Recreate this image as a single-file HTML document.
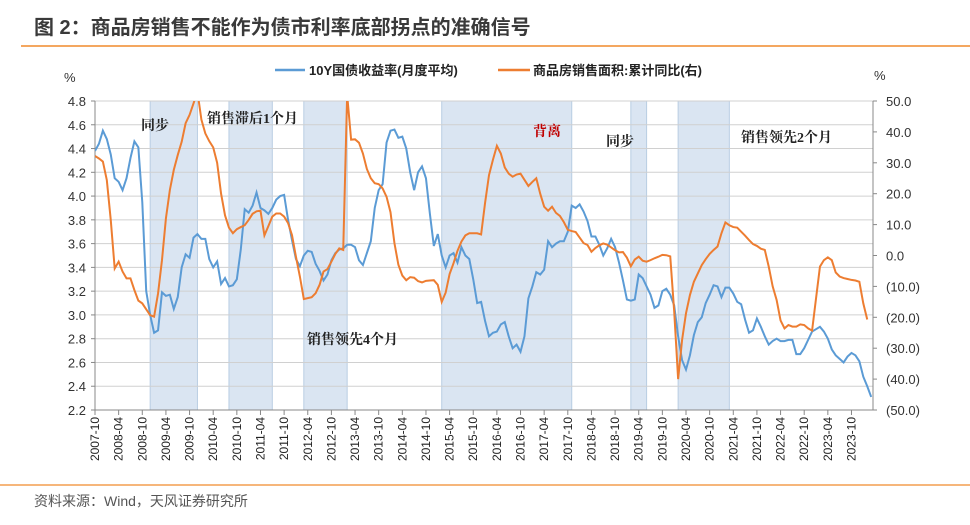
<!DOCTYPE html>
<html><head><meta charset="utf-8">
<style>
body{margin:0;background:#fff;width:970px;height:520px;overflow:hidden;font-family:"Liberation Sans","Noto Sans CJK SC",sans-serif;}
svg text{font-family:"Liberation Sans","Noto Sans CJK SC",sans-serif;}
.ann{font-family:"Liberation Serif","Noto Serif CJK SC",serif;font-weight:bold;font-size:14px;fill:#222;}
</style></head><body>
<svg id="chart" width="970" height="520" xmlns="http://www.w3.org/2000/svg">
<text x="34" y="34" font-size="20" font-weight="bold" fill="#3a3a3a">图 2：商品房销售不能作为债市利率底部拐点的准确信号</text>
<line x1="21" y1="46" x2="970" y2="46" stroke="#f08a2c" stroke-width="1.5"/>
<g id="shades"></g>
<g id="grid"></g>
<g id="axes"></g>
<g id="series"></g>
<g>
<line x1="275" y1="70" x2="305" y2="70" stroke="#5b9bd5" stroke-width="2.5"/>
<text x="309" y="75" font-size="13" font-weight="bold" fill="#222">10Y国债收益率(月度平均)</text>
<line x1="498" y1="70" x2="530" y2="70" stroke="#ed7d31" stroke-width="2.5"/>
<text x="533" y="75" font-size="13" font-weight="bold" fill="#222">商品房销售面积:累计同比(右)</text>
</g>
<text x="64" y="82" font-size="13" fill="#333">%</text>
<text x="874" y="80" font-size="13" fill="#333">%</text>
<text class="ann" x="141" y="130">同步</text>
<text class="ann" x="207" y="123">销售滞后1个月</text>
<text class="ann" x="307" y="344">销售领先4个月</text>
<text class="ann" x="533" y="136" style="fill:#c00000">背离</text>
<text class="ann" x="606" y="146">同步</text>
<text class="ann" x="741" y="142">销售领先2个月</text>
<line x1="0" y1="485" x2="970" y2="485" stroke="#f08a2c" stroke-width="1.2"/>
<text x="34" y="506" font-size="14" fill="#555">资料来源：Wind，天风证券研究所</text>
</svg>
<script>
const startYear = 2007, startMonth = 10;
const yieldValues = [4.38,4.44,4.55,4.48,4.35,4.15,4.12,4.05,4.15,4.32,4.46,4.41,3.95,3.2,3.0,2.85,2.87,3.19,3.16,3.17,3.05,3.15,3.4,3.51,3.48,3.65,3.68,3.64,3.64,3.47,3.4,3.45,3.26,3.31,3.24,3.25,3.3,3.55,3.89,3.86,3.92,4.03,3.9,3.88,3.85,3.9,3.97,4.0,4.01,3.8,3.63,3.47,3.41,3.5,3.54,3.53,3.43,3.37,3.29,3.34,3.46,3.52,3.55,3.56,3.59,3.59,3.57,3.46,3.42,3.52,3.62,3.9,4.05,4.1,4.45,4.55,4.56,4.49,4.5,4.4,4.2,4.05,4.2,4.25,4.15,3.85,3.58,3.68,3.5,3.4,3.5,3.52,3.44,3.57,3.5,3.47,3.3,3.1,3.11,2.95,2.82,2.85,2.86,2.92,2.94,2.82,2.72,2.75,2.69,2.82,3.14,3.24,3.36,3.34,3.38,3.62,3.57,3.6,3.62,3.62,3.7,3.92,3.9,3.93,3.87,3.79,3.66,3.66,3.59,3.5,3.56,3.64,3.57,3.44,3.29,3.13,3.12,3.13,3.34,3.31,3.24,3.17,3.06,3.08,3.2,3.22,3.17,3.08,2.82,2.62,2.54,2.66,2.83,2.94,2.98,3.1,3.17,3.25,3.24,3.15,3.23,3.23,3.18,3.11,3.09,2.96,2.85,2.87,2.97,2.9,2.82,2.75,2.78,2.8,2.78,2.78,2.79,2.79,2.67,2.67,2.72,2.79,2.86,2.88,2.9,2.86,2.8,2.71,2.66,2.63,2.6,2.65,2.68,2.66,2.61,2.48,2.4,2.31];
const salesValues = [32.2,31.4,30.4,24.4,11.5,-4.2,-2.0,-5.2,-7.4,-7.4,-11.2,-14.6,-15.5,-17.4,-19.3,-19.8,-12.3,-1.5,12.0,21.2,27.7,32.5,36.8,42.8,45.5,49.2,53,44,39.5,37,35,30,20,13,9,7.2,8.5,9.2,9.8,11.5,13.5,14.3,14.5,6.5,9.5,12.6,13.6,13.6,12.6,10.5,6.6,-0.4,-6.8,-14.1,-13.8,-13.5,-12.2,-9.5,-5.2,-4.4,-2.0,0.5,2.3,1.8,52,37.5,37.6,36.5,33,28,25,23.4,23.1,21.7,19,14,4,-3,-6.5,-8,-7,-7.2,-8.3,-8.7,-8.2,-8.1,-8.0,-9.5,-15,-12,-6,-2.5,1.5,4.5,6.5,7.2,7.2,7.2,6.8,17,26,31,35.5,33,28.5,26.5,25.5,26.2,26.5,24.5,22.5,23.8,25,20,15.8,14.5,15.8,13.8,12.8,10.8,8.3,7.9,7.6,5.8,4.0,3.4,1.2,2.4,3.3,3.9,3.5,2.6,1.7,1.0,1.1,-0.7,-3.5,-1.3,-0.4,-1.7,-2.0,-1.5,-0.9,-0.4,0.2,0.1,-0.3,-18,-40,-27.4,-18.7,-12.8,-8.5,-5.8,-3.1,-1.2,0.5,1.8,2.9,7.2,10.7,9.8,9.2,9.0,7.7,6.4,5.0,3.7,3.1,2.2,1.8,-3.6,-10,-14.4,-21,-23.6,-22.5,-23,-23,-22.3,-22.5,-23.6,-24.3,-13.9,-3.6,-1.5,-0.6,-1.5,-5.5,-6.8,-7.3,-7.6,-7.9,-8.1,-8.5,-15.5,-20.7];
const leftTicks = [2.2,2.4,2.6,2.8,3.0,3.2,3.4,3.6,3.8,4.0,4.2,4.4,4.6,4.8];
const rightTicks = [-50,-40,-30,-20,-10,0,10,20,30,40,50];
const rightTickLabels = ["(50.0)","(40.0)","(30.0)","(20.0)","(10.0)","0.0","10.0","20.0","30.0","40.0","50.0"];
const shadeStarts = ["2008-12","2010-08","2012-03","2015-02","2019-02","2020-02"];
const shadeEnds = ["2009-12","2011-07","2013-02","2017-11","2019-06","2021-03"];

const NS="http://www.w3.org/2000/svg";
const X0=95, X1=873, YT=101, YB=410, PXM=3.94;
function monthIndex(s){const [y,m]=s.split('-').map(Number);return (y-startYear)*12+(m-startMonth);}
function xScale(i){return X0+i*PXM;}
function yLeft(v){return YB-(v-2.2)/2.6*(YB-YT);}
function yRight(v){return YB-(v+50)/100*(YB-YT);}
function mk(tag,attrs,parent){const e=document.createElementNS(NS,tag);for(const k in attrs)e.setAttribute(k,attrs[k]);parent.appendChild(e);return e;}
const shades=document.getElementById('shades'),grid=document.getElementById('grid'),axes=document.getElementById('axes'),series=document.getElementById('series');

shadeStarts.forEach((s,k)=>{
  const a=xScale(monthIndex(s)),b=xScale(monthIndex(shadeEnds[k]));
  const r=mk('rect',{x:a,y:YT,width:b-a,height:YB-YT,fill:'#dae5f2',stroke:'#b9cde3','stroke-width':1},shades);
  
  
});
leftTicks.forEach(v=>{
  const y=yLeft(v);
  const l=mk('line',{x1:X0,y1:y,x2:X1,y2:y,stroke:'#d0d0d0','stroke-width':1},grid);
  
  
  const t=mk('text',{x:86,y:y+5,'text-anchor':'end','font-size':13,fill:'#333'},axes);
  t.textContent=v.toFixed(1);
  
  
  mk('line',{x1:X0-4,y1:y,x2:X0,y2:y,stroke:'#888'},axes);
});
rightTicks.forEach((v,k)=>{
  const y=yRight(v);
  const t=mk('text',{x:886,y:y+5,'font-size':13,fill:'#333'},axes);
  t.textContent=rightTickLabels[k];
  
  
  mk('line',{x1:X1,y1:y,x2:X1+4,y2:y,stroke:'#888'},axes);
});
mk('line',{x1:X0,y1:YT,x2:X0,y2:YB,stroke:'#888'},axes);
mk('line',{x1:X1,y1:YT,x2:X1,y2:YB,stroke:'#888'},axes);
mk('line',{x1:X0,y1:YB,x2:X1,y2:YB,stroke:'#888'},axes);
for(let i=0;i<=192;i+=6){
  const x=xScale(i);
  mk('line',{x1:x,y1:YB,x2:x,y2:YB+5,stroke:'#888'},axes);
  const y=startYear+Math.floor((startMonth-1+i)/12), m=(startMonth-1+i)%12+1;
  const t=mk('text',{x:0,y:0,'font-size':12,fill:'#222','text-anchor':'end',transform:`translate(${x+4},${YB+7}) rotate(-90)`},axes);
  t.textContent=y+'-'+String(m).padStart(2,'0');
  
  
}
const cp=mk('clipPath',{id:'clip'},series);
mk('rect',{x:X0,y:YT,width:X1-X0,height:YB-YT},cp);
const pY=mk('polyline',{points:yieldValues.map((v,i)=>xScale(i)+','+yLeft(v)).join(' '),fill:'none',stroke:'#5b9bd5','stroke-width':2,'clip-path':'url(#clip)'},series);


const pS=mk('polyline',{points:salesValues.map((v,i)=>xScale(i)+','+yRight(v)).join(' '),fill:'none',stroke:'#ed7d31','stroke-width':2,'clip-path':'url(#clip)'},series);


</script>
</body></html>
